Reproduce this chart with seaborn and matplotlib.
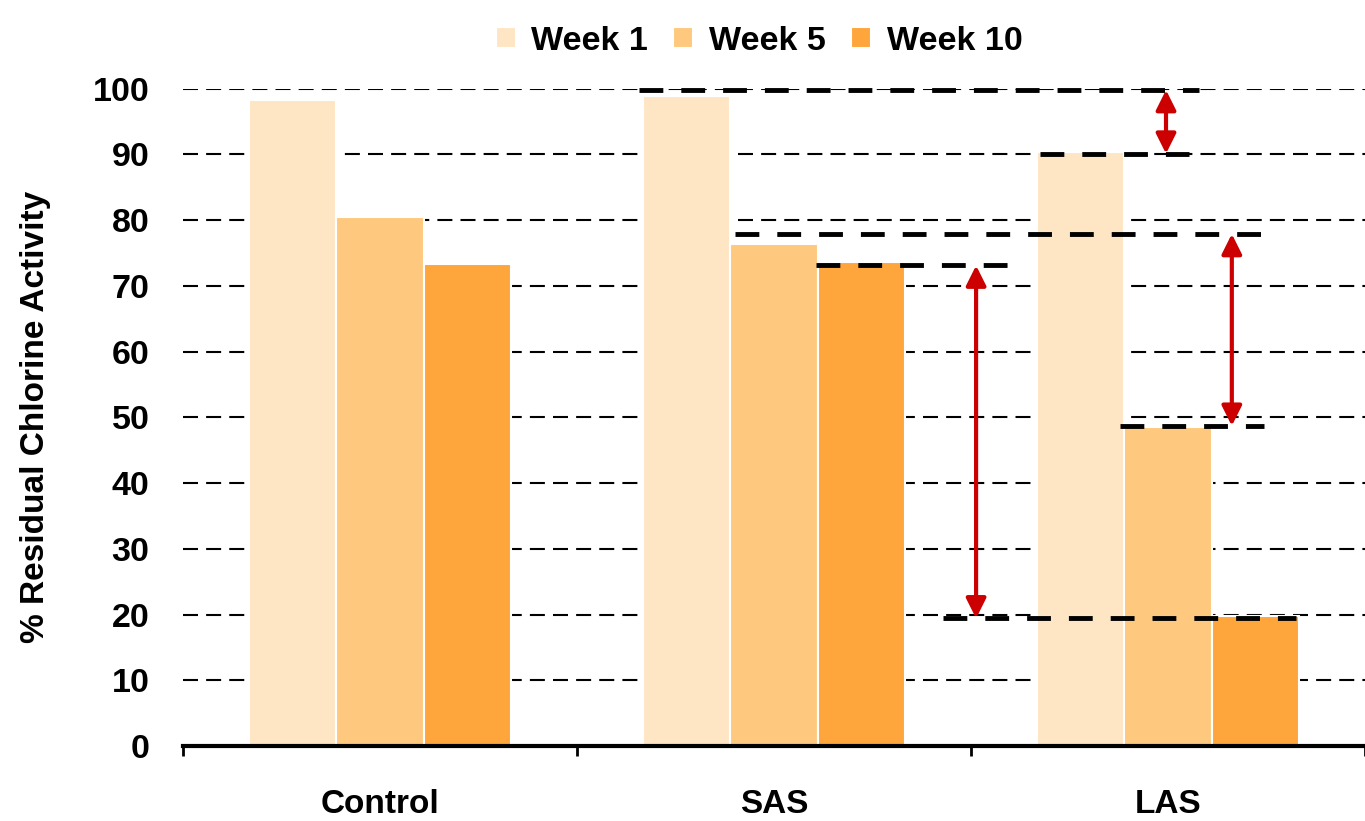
import matplotlib
matplotlib.use("Agg")
import matplotlib.pyplot as plt
from matplotlib.patches import FancyArrowPatch
import seaborn as sns
import pandas as pd

# Residual chlorine activity per sample and storage week
samples = ["Control", "SAS", "LAS"]
weeks = ["Week 1", "Week 5", "Week 10"]
week1 = [98.3, 98.9, 90.3]
week5 = [80.5, 76.3, 48.5]
week10 = [73.4, 73.7, 19.8]
y_ticks = [0, 10, 20, 30, 40, 50, 60, 70, 80, 90, 100]

# Reference levels used to mark the drops (level, x-start, x-end)
ref_levels = [99.8, 90.1, 77.9, 73.1, 48.7, 19.4]
ref_spans = [(0.657, 2.079), (1.675, 2.053), (0.901, 2.244),
             (1.107, 1.594), (1.878, 2.244), (1.429, 2.325)]
# Drop arrows: (x, from level, to level)
drops = [(1.995, 99.8, 90.1), (2.162, 77.9, 48.7), (1.513, 73.1, 19.4)]

colors = ["#FEE5C4", "#FEC97E", "#FEA63B"]

df = pd.DataFrame({
    "Sample": samples * 3,
    "Week": [w for w in weeks for _ in samples],
    "Activity": week1 + week5 + week10,
})

sns.set_theme(style="white")
plt.rcParams["font.family"] = ["Liberation Sans", "DejaVu Sans"]
plt.rcParams["font.weight"] = "bold"
plt.rcParams["text.color"] = "black"
plt.rcParams["xtick.color"] = "black"
plt.rcParams["ytick.color"] = "black"
plt.rcParams["axes.labelcolor"] = "black"

fig, ax = plt.subplots(figsize=(13.65, 8.21), dpi=100)
fig.subplots_adjust(left=0.134, right=1.0, bottom=0.0914, top=0.892)

sns.barplot(data=df, x="Sample", y="Activity", hue="Week", order=samples,
            hue_order=weeks, palette=colors, width=0.665, saturation=1,
            edgecolor="white", linewidth=1.5, ax=ax, legend=True)

ax.set_xlim(-0.5, 2.5)
ax.set_ylim(0, 100)
ax.set_yticks(y_ticks)
ax.set_axisbelow(True)
ax.yaxis.grid(True, color="black", linewidth=1.5, linestyle=(0, (7.2, 3.9)))
ax.xaxis.grid(False)

for side in ["left", "right", "top"]:
    ax.spines[side].set_visible(False)
ax.spines["bottom"].set_color("black")
ax.spines["bottom"].set_linewidth(3)

# Category boundaries carry tick marks, centres carry the labels
ax.set_xticks([-0.5, 0.5, 1.5, 2.5])
ax.set_xticklabels([])
ax.set_xticks([0, 1, 2], minor=True)
ax.set_xticklabels(samples, minor=True, fontsize=24, fontweight="bold")
ax.tick_params(axis="x", which="major", bottom=True, direction="out",
               length=7, width=2, color="black")
ax.tick_params(axis="x", which="minor", bottom=True, length=0, pad=31)
ax.tick_params(axis="y", left=False, length=0, pad=24)
for lab in ax.get_yticklabels():
    lab.set_fontsize(24.5)
    lab.set_fontweight("bold")

ax.set_xlabel("")
ax.set_ylabel("% Residual Chlorine Activity", fontsize=24, fontweight="bold",
              labelpad=30)

# Thick dashed reference levels
for lvl, (x0, x1) in zip(ref_levels, ref_spans):
    ax.plot([x0, x1], [lvl, lvl], color="black", linewidth=3.5,
            linestyle=(0, (4.9, 3.7)), clip_on=False, zorder=5)

# Red double-headed arrows for the drops
for x, y0, y1 in drops:
    arr = FancyArrowPatch((x, y0), (x, y1),
                          arrowstyle="<|-|>,head_length=1.0,head_width=0.5",
                          mutation_scale=12, color="#CC0000", linewidth=3,
                          shrinkA=0, shrinkB=0, zorder=6, clip_on=False)
    ax.add_patch(arr)

leg = ax.legend(loc="upper center", bbox_to_anchor=(0.556, 1.0),
                bbox_transform=fig.transFigure, ncol=3, frameon=False,
                fontsize=24.5, handlelength=0.59, handleheight=0.59,
                handletextpad=0.45, columnspacing=0.75, borderaxespad=0.35)
for t in leg.get_texts():
    t.set_fontweight("bold")

fig.savefig("out.png", dpi=100)
